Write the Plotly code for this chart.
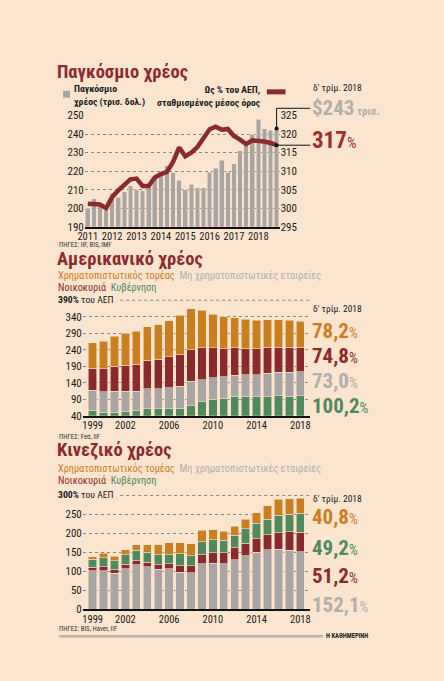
import plotly.graph_objects as go

W, H = 444, 681
BG = "#fce5cf"
FONT = "Roboto Condensed, Roboto, sans-serif"
RED = "#8b2a2d"
ORANGE = "#c97f1f"
GRAY = "#a9a5a3"
GREEN = "#4f8a5e"
LGRAY = "#b2aeac"

# Παγκόσμιο χρέος, τριμηνιαία 2011-2018
global_debt = [200, 205, 202, 199, 208, 206, 209, 212, 210, 209.5, 211, 216.5,
               219, 223, 219, 215, 210, 213, 211, 211, 219.5, 221.5, 226, 219.5,
               224, 231, 235.5, 240, 248, 243, 242, 243]
global_pct = [301.2, 301.0, 301.0, 300.0, 303.0, 304.8, 306.3, 307.8, 308.0, 306.0,
              306.0, 308.3, 309.2, 309.8, 312.5, 316.4, 314.0, 315.0, 316.5, 319.0,
              321.3, 322.0, 321.2, 321.4, 319.5, 318.5, 317.3, 318.3, 318.3, 318.0,
              317.6, 317.0]
global_years = ["2011", "2012", "2013", "2014", "2015", "2016", "2017", "2018"]

# Αμερικανικό χρέος, % του ΑΕΠ
years = list(range(1999, 2019))
year_ticks = [1999, 2002, 2006, 2010, 2014, 2018]
us_gov = [55.5, 50.5, 50.5, 53.5, 54.5, 61.5, 61.5, 60.5, 60.5, 70.5,
          82.5, 90, 93, 98, 98, 98, 98, 100, 99, 100.2]
us_nonfin = [61, 62, 64, 61, 60, 60, 61, 64, 69, 74,
             67, 64.5, 64.5, 64.5, 66.5, 66.5, 70.5, 71.5, 72.5, 73.0]
us_house = [68, 70, 75, 79, 82, 86, 89, 94, 96, 96,
            96, 91, 86, 84, 79, 79, 77, 76, 76, 74.8]
us_fin = [77, 84, 91, 97, 99, 102, 104, 109, 119, 124,
          114, 102, 97, 91, 89, 86, 85, 83, 82, 78.2]

# Κινεζικό χρέος, % του ΑΕΠ
cn_nonfin = [101.6, 101.6, 94.4, 106.7, 117, 112.3, 105.3, 106.2, 97.5, 96.4,
             119.4, 121, 119.4, 130, 141.6, 150.3, 156.6, 158.3, 155.6, 152.1]
cn_house = [9.2, 10.8, 10.3, 12.3, 11.3, 11.5, 11.7, 13.2, 17.4, 18.5,
            24.7, 27.7, 29.4, 31.9, 32.8, 35.4, 39.8, 43.3, 48.6, 51.2]
cn_gov = [21.5, 23.1, 23.6, 25.1, 26.7, 26.5, 26.3, 23.7, 30.8, 26.6,
          34.5, 34.3, 32.5, 32.7, 38, 41.5, 40.6, 46, 46.2, 49.2]
cn_fin = [6.2, 12.3, 11.3, 12.8, 14.9, 19.5, 26.6, 31.8, 29.7, 30.8,
          29.4, 27.1, 25.0, 24.6, 24.6, 27.3, 35.4, 41.9, 41.6, 40.8]


def px(x):
    return x / W


def py(y):
    return 1 - y / H


fig = go.Figure()
outline = dict(color="#f6dcc6", width=0.6)

# --- top chart
q = list(range(len(global_debt)))
fig.add_trace(go.Bar(x=q, y=global_debt, marker=dict(color=GRAY, line=outline),
                     xaxis="x", yaxis="y", showlegend=False))
fig.add_trace(go.Scatter(x=q, y=global_pct, mode="lines",
                         line=dict(color=RED, width=4.5),
                         xaxis="x", yaxis="y2", showlegend=False))
fig.add_trace(go.Scatter(x=[q[-1]], y=[global_debt[-1]], mode="markers",
                         marker=dict(color="#111", size=4),
                         xaxis="x", yaxis="y", showlegend=False))
fig.add_trace(go.Scatter(x=[q[-1]], y=[global_pct[-1]], mode="markers",
                         marker=dict(color="#111", size=4),
                         xaxis="x", yaxis="y2", showlegend=False))

# --- US chart
idx = list(range(len(years)))
for vals, col in [(us_gov, GREEN), (us_nonfin, GRAY), (us_house, RED), (us_fin, ORANGE)]:
    fig.add_trace(go.Bar(x=idx, y=vals, marker=dict(color=col, line=outline),
                         xaxis="x2", yaxis="y3", showlegend=False))

# --- China chart
for vals, col in [(cn_nonfin, GRAY), (cn_house, RED), (cn_gov, GREEN), (cn_fin, ORANGE)]:
    fig.add_trace(go.Bar(x=idx, y=vals, marker=dict(color=col, line=outline),
                         xaxis="x3", yaxis="y4", showlegend=False))

tickfont = dict(family=FONT, size=11, color="#1a1a1a")
grid = dict(showgrid=True, gridcolor="#8a8580", griddash="dot", gridwidth=1,
            zeroline=False, ticks="", tickfont=tickfont)
xax = dict(showgrid=False, zeroline=False, ticks="", showline=True, tickangle=0,
           linecolor="#111", linewidth=1.5, ticklabelstandoff=-1,
           tickfont=dict(tickfont, size=10.5))

yr_idx = [years.index(y) for y in year_ticks]

fig.update_layout(
    width=W, height=H,
    margin=dict(l=0, r=0, t=0, b=0),
    paper_bgcolor=BG, plot_bgcolor=BG,
    barmode="stack", bargap=0.24,
    font=dict(family=FONT, color="#1a1a1a"),
    xaxis=dict(domain=[px(79), px(277)], range=[-0.5, 31.5], anchor="y",
               tickvals=q[::4], ticktext=global_years, **xax),
    yaxis=dict(domain=[py(225), py(111.7)], range=[190, 250], dtick=10,
               anchor="x", **grid),
    yaxis2=dict(domain=[py(225), py(111.7)], range=[295, 325], dtick=5,
                overlaying="y", side="right", anchor="x", showgrid=False,
                zeroline=False, ticks="", tickfont=tickfont),
    xaxis2=dict(domain=[px(77), px(308)], range=[-0.9, 19.9], anchor="y3",
                tickvals=yr_idx, ticktext=[str(y) for y in year_ticks], **xax),
    yaxis3=dict(domain=[py(417.7), py(300)], range=[40, 390],
                tickvals=list(range(40, 341, 50)), anchor="x2", **grid),
    xaxis3=dict(domain=[px(77), px(308)], range=[-0.9, 19.9], anchor="y4",
                tickvals=yr_idx, ticktext=[str(y) for y in year_ticks], **xax),
    yaxis4=dict(domain=[py(615), py(499)], range=[0, 300],
                tickvals=list(range(0, 251, 50)), anchor="x3", **grid),
)

ann = []


def txt(x, y, text, size, color="#1a1a1a", xanchor="left"):
    ann.append(dict(x=px(x), y=py(y), xref="paper", yref="paper", text=text,
                    showarrow=False, xanchor=xanchor, yanchor="middle",
                    align=xanchor, borderpad=0,
                    font=dict(family=FONT, size=size, color=color)))


shapes = []


def hline(x0, x1, y, color="#111", width=1, dash="solid"):
    shapes.append(dict(type="line", xref="paper", yref="paper", x0=px(x0), x1=px(x1),
                       y0=py(y), y1=py(y), line=dict(color=color, width=width, dash=dash)))


def legend_lines(y):
    txt(51, y, f"<span style='color:{ORANGE}'>Χρηματοπιστωτικός τομέας</span>  "
               f"<span style='color:{LGRAY}'>Μη χρηματοπιστωτικές εταιρείες</span>", 10.3)
    txt(51, y + 12, f"<span style='color:{RED}'>Νοικοκυριά</span>  "
                    f"<span style='color:{GREEN}'>Κυβέρνηση</span>", 10.3)


def last_values(items):
    for v, col, yy in items:
        s = f"{v:.1f}".replace(".", ",")
        txt(309, yy, f"<b>{s}</b><span style='font-size:14px'>%</span>", 21, col)


# top chart texts
txt(50, 67, "<b>Παγκόσμιο χρέος</b>", 18.5, RED)
shapes.append(dict(type="rect", xref="paper", yref="paper", x0=px(57), x1=px(64),
                   y0=py(93.5), y1=py(86.5), fillcolor=GRAY, line=dict(width=0)))
txt(67, 91.5, "<b>Παγκόσμιο<br>χρέος (τρισ. δολ.)</b>", 9.7)
txt(259, 91.5, "<b>Ως % του ΑΕΠ,<br>σταθμισμένος μέσος όρος</b>", 9.7, xanchor="right")
hline(264, 283, 87.5, RED, 5)
txt(310, 83, "δ' τρίμ. 2018", 9.5)
txt(309, 103.5, "<b>$243</b><span style='font-size:11px'> <b>τρισ.</b></span>", 21, LGRAY)
txt(309, 137.5, "<b>317</b><span style='font-size:15px'>%</span>", 23, "#9c2f2f")
txt(52, 244, "ΠΗΓΕΣ: IIF, BIS, IMF", 6.8, "#333")


def y_top(v):
    return 225 - (v - 190) / 60 * (225 - 111.7)


def y_top2(v):
    return 225 - (v - 295) / 30 * (225 - 111.7)


def x_top(i):
    return 79 + (i + 0.5) / 32 * (277 - 79)


xe = x_top(q[-1])
shapes.append(dict(type="line", xref="paper", yref="paper", x0=px(xe), x1=px(xe),
                   y0=py(y_top(global_debt[-1])), y1=py(104.3),
                   line=dict(color="#111", width=1)))
hline(xe, 308, 104.3)
hline(xe, 308, y_top2(global_pct[-1]))

# US chart texts
txt(50, 257.5, "<b>Αμερικανικό χρέος</b>", 18.5, RED)
legend_lines(275)
txt(51, 299.5, "<b>390%</b> του ΑΕΠ", 9.7)
hline(115, 308, 300, "#8a8580", 1, "dot")
txt(310, 308.5, "δ' τρίμ. 2018", 9.5)
last_values([(us_fin[-1], ORANGE, 331), (us_house[-1], RED, 357),
             (us_nonfin[-1], LGRAY, 382), (us_gov[-1], GREEN, 408)])
txt(52, 439, "ΠΗΓΕΣ: Fed, IIF", 6.8, "#333")

# China chart texts
txt(50, 452.5, "<b>Κινεζικό χρέος</b>", 18.5, RED)
legend_lines(472)
txt(51, 498, "<b>300%</b> του ΑΕΠ", 9.7)
hline(115, 308, 499, "#8a8580", 1, "dot")
txt(310, 502, "δ' τρίμ. 2018", 9.5)
last_values([(cn_fin[-1], ORANGE, 521), (cn_gov[-1], GREEN, 553),
             (cn_house[-1], RED, 581), (cn_nonfin[-1], LGRAY, 611)])
txt(52, 635, "ΠΗΓΕΣ: BIS, Haver, IIF", 6.8, "#333")

hline(53, 321, 642.5, "#bdb2a8", 2.5)
txt(323, 642.5, "<b>Η ΚΑΘΗΜΕΡΙΝΗ</b>", 6.5, "#222")

fig.update_layout(annotations=ann, shapes=shapes)
fig.write_html("out.html", config={"displayModeBar": False},
               post_script="document.body.style.margin='0';"
                           "document.body.style.background='#fce5cf';")
